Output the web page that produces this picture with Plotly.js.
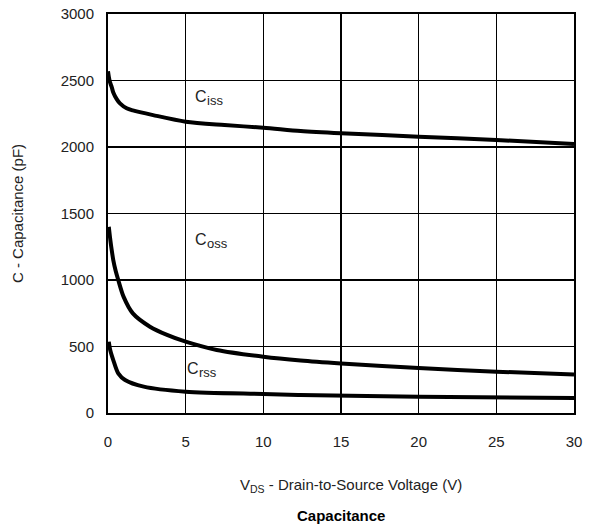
<!DOCTYPE html>
<html><head><meta charset="utf-8">
<script src="https://cdn.plot.ly/plotly-3.0.1.min.js"></script>
<style>html,body{margin:0;padding:0;background:#fff}#chart{width:597px;height:527px}</style>
</head><body><div id="chart"></div>
<script>
const ciss_v = [0, 0.05, 0.12, 0.24, 0.34, 0.56, 0.77, 1.2, 1.6, 2.9, 5, 7.5, 10, 12.4, 15, 20, 25, 30];
const ciss_c = [2570, 2530, 2490, 2450, 2410, 2360, 2328, 2291, 2275, 2240, 2190, 2165, 2145, 2120, 2103, 2078, 2053, 2023];
const coss_v = [0.05, 0.12, 0.22, 0.34, 0.5, 0.66, 1.0, 1.6, 2.7, 3.8, 5, 7, 10, 12.4, 15, 20, 25, 30];
const coss_c = [1400, 1330, 1240, 1150, 1065, 1000, 875, 749, 649, 587, 536, 474, 423, 395, 373, 338, 311, 290];
const crss_v = [0.05, 0.15, 0.34, 0.66, 1.1, 2.3, 5, 10, 12.4, 20, 30];
const crss_c = [536, 470, 398, 298, 248, 198, 160, 143, 135, 123, 112];
const xTicks = [0, 5, 10, 15, 20, 25, 30];
const yTicks = [0, 500, 1000, 1500, 2000, 2500, 3000];
const labelMain = ['C', 'C', 'C'];
const labelSub = ['iss', 'oss', 'rss'];
const labelX = [5.5, 5.5, 4.98];
const labelY = [2376, 1301, 338];
const font = 'Liberation Sans, Arial, sans-serif';
const line = {color: '#000', width: 4, shape: 'spline', smoothing: 0.8};
const traces = [
  {x: ciss_v, y: ciss_c, mode: 'lines', line: line, hoverinfo: 'skip'},
  {x: coss_v, y: coss_c, mode: 'lines', line: line, hoverinfo: 'skip'},
  {x: crss_v, y: crss_c, mode: 'lines', line: line, hoverinfo: 'skip'}
];
const ann = [];
labelMain.forEach((m, i) => {
  ann.push({x: labelX[i], y: labelY[i], text: m, showarrow: false, xref: 'x', yref: 'y',
    xanchor: 'left', yanchor: 'middle', font: {family: font, size: 16, color: '#222'}});
  ann.push({x: labelX[i], y: labelY[i], text: labelSub[i], showarrow: false, xref: 'x', yref: 'y',
    xanchor: 'left', yanchor: 'middle', xshift: 11.5, yshift: -4, font: {family: font, size: 13, color: '#222'}});
});
ann.push({text: 'V<sub>DS</sub> - Drain-to-Source Voltage (V)', xref: 'paper', yref: 'paper', x: 0.5225, y: 0,
  yanchor: 'middle', yshift: -72, showarrow: false, font: {family: font, size: 15, color: '#222'}});
ann.push({text: '<b>Capacitance</b>', xref: 'paper', yref: 'paper', x: 0.5, y: 0, yanchor: 'middle', yshift: -102,
  showarrow: false, font: {family: font, size: 15, color: '#000'}});
const layout = {
  width: 597, height: 527,
  margin: {l: 108, r: 23, t: 14, b: 114},
  paper_bgcolor: '#fff', plot_bgcolor: '#fff',
  showlegend: false,
  font: {family: font, size: 14, color: '#222'},
  xaxis: {range: [0, 30], tickvals: xTicks, ticktext: xTicks.map(String), showgrid: true,
    gridcolor: '#000', gridwidth: 1.3, zeroline: false, showline: true, linecolor: '#000', linewidth: 2,
    mirror: true, ticks: '', ticklabelstandoff: 14, tickfont: {family: font, size: 15, color: '#222'}},
  yaxis: {range: [0, 3000], tickvals: yTicks, ticktext: yTicks.map(String), showgrid: true,
    gridcolor: '#000', gridwidth: 1.3, zeroline: false, showline: true, linecolor: '#000', linewidth: 2,
    mirror: true, ticks: '', ticklabelstandoff: 9, tickfont: {family: font, size: 15, color: '#222'},
    title: {text: 'C - Capacitance (pF)', font: {family: font, size: 15, color: '#222'}, standoff: 33}},
  annotations: ann
};
Plotly.newPlot('chart', traces, layout, {displayModeBar: false, staticPlot: true});
</script></body></html>
